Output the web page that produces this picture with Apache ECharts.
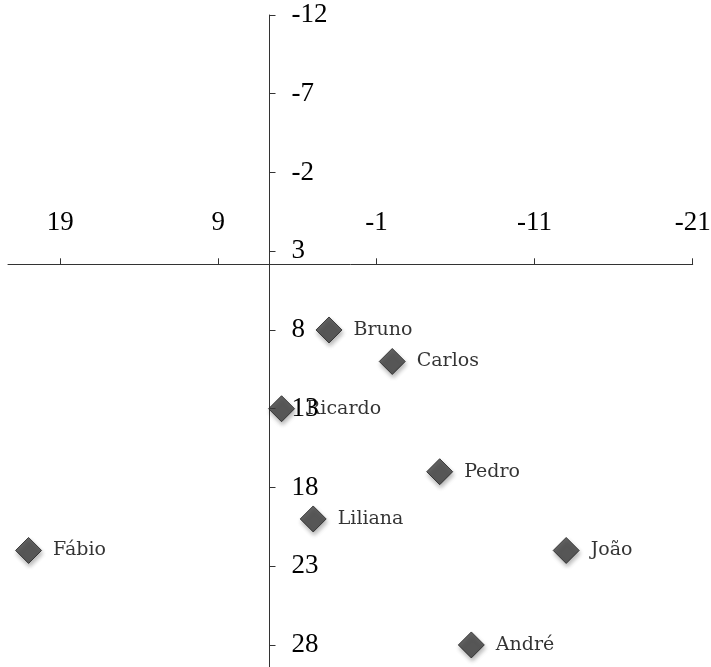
<!DOCTYPE html>
<html>
<head>
<meta charset="utf-8">
<script src="https://cdn.jsdelivr.net/npm/echarts@6/dist/echarts.min.js"></script>
<style>html,body{margin:0;padding:0;background:#fff}#c{width:711px;height:667px}</style>
</head>
<body>
<div id="c"></div>
<script>
const names = ['Bruno', 'Carlos', 'Ricardo', 'Pedro', 'Liliana', 'Fábio', 'João', 'André'];
const xValues = [2, -2, 5, -5, 3, 21, -13, -7];
const yValues = [8, 10, 13, 17, 20, 22, 22, 28];
const xTicks = [19, 9, -1, -11, -21];
const yTicks = [-12, -7, -2, 3, 8, 13, 18, 23, 28];

const chart = echarts.init(document.getElementById('c'));
const font = '"Liberation Serif", "Times New Roman", serif';
chart.setOption({
  animation: false,
  backgroundColor: '#fff',
  grid: { left: 8, right: 18.3, top: 15, bottom: 0, containLabel: false, outerBoundsMode: 'none' },
  xAxis: {
    type: 'value', inverse: true, min: -21, max: 22.3, interval: 10,
    position: 'top', offset: -249.3,
    axisLine: { show: true, onZero: false, lineStyle: { color: '#333', width: 1 } },
    axisTick: { show: true, length: 6, customValues: xTicks, lineStyle: { color: '#333' } },
    axisLabel: { customValues: xTicks, margin: 28, fontFamily: font, fontSize: 27, color: '#000' },
    splitLine: { show: false }
  },
  yAxis: {
    type: 'value', inverse: true, min: -12, max: 29.4, interval: 5,
    position: 'left', offset: -261.5,
    axisLine: { show: true, onZero: false, lineStyle: { color: '#333', width: 1 } },
    axisTick: { show: true, inside: true, length: 6, customValues: yTicks, lineStyle: { color: '#333' } },
    axisLabel: { inside: true, customValues: yTicks, margin: 22, fontFamily: font, fontSize: 27, color: '#000' },
    splitLine: { show: false }
  },
  series: [{
    type: 'scatter',
    symbol: 'diamond',
    symbolSize: [26, 26],
    itemStyle: {
      color: '#3d3d3d', borderColor: '#222', borderWidth: 1,
      shadowColor: 'rgba(0,0,0,0.35)', shadowBlur: 4, shadowOffsetX: 1, shadowOffsetY: 3
    },
    label: {
      show: true, position: 'right', distance: 11,
      formatter: p => names[p.dataIndex],
      fontFamily: '"DejaVu Serif", serif', fontSize: 19, color: '#000'
    },
    data: xValues.map((x, i) => [x, yValues[i]])
  }]
});
</script>
</body>
</html>
